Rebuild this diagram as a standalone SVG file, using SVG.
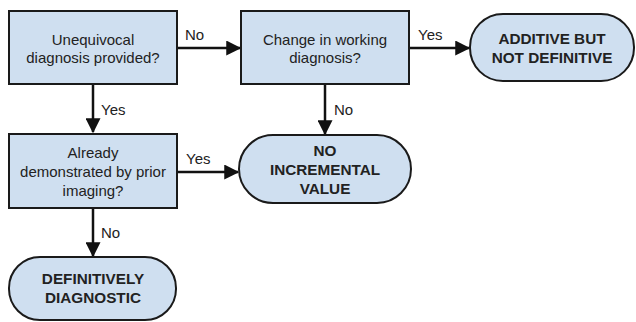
<svg xmlns="http://www.w3.org/2000/svg" width="636" height="322" viewBox="0 0 636 322">
<style>
.box{fill:#cfdff0;stroke:#1a1a1a;stroke-width:2}
.t{font-family:"Liberation Sans",Arial,sans-serif;font-size:15px;fill:#222;text-anchor:middle}
.b{font-weight:bold;font-size:15.3px}
.lbl{font-family:"Liberation Sans",Arial,sans-serif;font-size:15px;fill:#222}
.c{stroke:#111;stroke-width:2.5;fill:none;marker-end:url(#ah)}
</style>
<defs>
<marker id="ah" markerWidth="6" markerHeight="6" refX="5.5" refY="3" orient="auto" markerUnits="strokeWidth">
<path d="M0,0 L6,3 L0,6 Z" fill="#111"/>
</marker>
</defs>
<rect width="636" height="322" fill="#fff"/>
<g id="connectors">
<line class="c" x1="177" y1="48" x2="240" y2="48"/>
<text class="lbl" x="185" y="40">No</text>
<line class="c" x1="93" y1="84" x2="93" y2="132"/>
<text class="lbl" x="101" y="115">Yes</text>
<line class="c" x1="409" y1="48" x2="469" y2="48"/>
<text class="lbl" x="418" y="40">Yes</text>
<line class="c" x1="325" y1="84" x2="325" y2="134"/>
<text class="lbl" x="334" y="115">No</text>
<line class="c" x1="177" y1="172" x2="238" y2="172"/>
<text class="lbl" x="186" y="164">Yes</text>
<line class="c" x1="93" y1="208" x2="93" y2="256"/>
<text class="lbl" x="101" y="238">No</text>
</g>
<g id="n1">
<rect class="box" x="9" y="11" width="168" height="73"/>
<text class="t" x="93" y="45">Unequivocal</text>
<text class="t" x="93" y="63">diagnosis provided?</text>
</g>
<g id="n2">
<rect class="box" x="241" y="11" width="168" height="73"/>
<text class="t" x="325" y="45">Change in working</text>
<text class="t" x="325" y="63">diagnosis?</text>
</g>
<g id="n3">
<rect class="box" x="470" y="14" width="164" height="67" rx="33" ry="33"/>
<text class="t b" x="552" y="44">ADDITIVE BUT</text>
<text class="t b" x="552" y="63">NOT DEFINITIVE</text>
</g>
<g id="n4">
<rect class="box" x="9" y="134" width="168" height="74"/>
<text class="t" x="93" y="158">Already</text>
<text class="t" x="93" y="177">demonstrated by prior</text>
<text class="t" x="93" y="196">imaging?</text>
</g>
<g id="n5">
<rect class="box" x="239" y="135" width="172" height="68" rx="34" ry="34"/>
<text class="t b" x="325" y="156">NO</text>
<text class="t b" x="325" y="175">INCREMENTAL</text>
<text class="t b" x="325" y="194">VALUE</text>
</g>
<g id="n6">
<rect class="box" x="9" y="257" width="167" height="63" rx="31" ry="31"/>
<text class="t b" x="93" y="284">DEFINITIVELY</text>
<text class="t b" x="93" y="303">DIAGNOSTIC</text>
</g>
</svg>
